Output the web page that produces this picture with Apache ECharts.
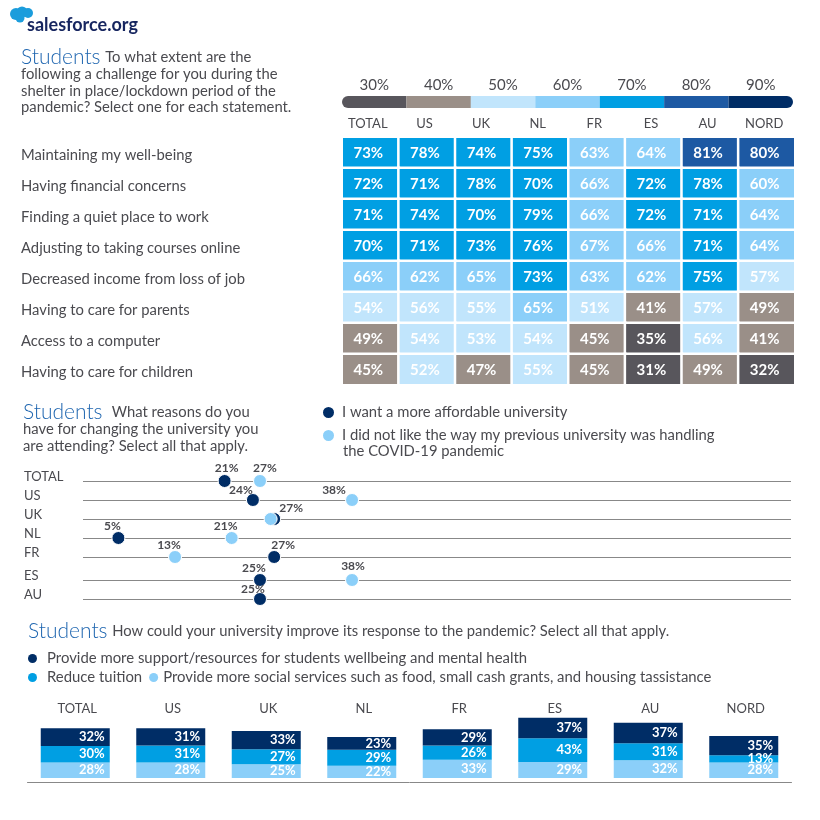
<!DOCTYPE html>
<html>
<head>
    <meta charset="utf-8" />
    <title>Students</title>
    <script src="https://cdn.jsdelivr.net/npm/echarts@6/dist/echarts.min.js"></script>
    <style>
        html, body { margin: 0; background: #fff; }
        #main { width: 820px; height: 820px; }
    </style>
</head>
<body>
    <div id="main"></div>
    <script>
        // heatmap data
        var regions = ['TOTAL', 'US', 'UK', 'NL', 'FR', 'ES', 'AU', 'NORD'];
        var challenges = ['Maintaining my well-being', 'Having financial concerns', 'Finding a quiet place to work',
            'Adjusting to taking courses online', 'Decreased income from loss of job', 'Having to care for parents',
            'Access to a computer', 'Having to care for children'];
        var wellBeing = [73, 78, 74, 75, 63, 64, 81, 80];
        var financial = [72, 71, 78, 70, 66, 72, 78, 60];
        var quietPlace = [71, 74, 70, 79, 66, 72, 71, 64];
        var coursesOnline = [70, 71, 73, 76, 67, 66, 71, 64];
        var lostIncome = [66, 62, 65, 73, 63, 62, 75, 57];
        var careParents = [54, 56, 55, 65, 51, 41, 57, 49];
        var computerAccess = [49, 54, 53, 54, 45, 35, 56, 41];
        var careChildren = [45, 52, 47, 55, 45, 31, 49, 32];
        var scaleLabels = ['30%', '40%', '50%', '60%', '70%', '80%', '90%'];
        var scaleFrom = [30, 40, 50, 60, 70, 80, 90];

        // dot plot data: the dots do not always sit on their printed value, so both are kept
        var dotRegions = ['TOTAL', 'US', 'UK', 'NL', 'FR', 'ES', 'AU'];
        var affordablePlotted = [20, 24, 27, 5, 27, 25, 25];
        var affordablePrinted = [21, 24, 27, 5, 27, 25, 25];
        var handlingPlotted = [25, 38, 26.5, 21, 13, 38, null];
        var handlingPrinted = [27, 38, null, 21, 13, 38, null];

        // stacked bar data
        var moreSupport = [32, 31, 33, 23, 29, 37, 37, 35];
        var reduceTuition = [30, 31, 27, 29, 26, 43, 31, 13];
        var socialServices = [28, 28, 25, 22, 33, 29, 32, 28];

        var nameAffordable = 'I want a more affordable university';
        var nameHandling = 'I did not like the way my previous university was handling';
        var nameSupport = 'Provide more support/resources for students wellbeing and mental health';
        var nameTuition = 'Reduce tuition';
        var nameServices = 'Provide more social services such as food, small cash grants, and housing tassistance';

        var FONT = 'Lato';
        var GREY = '#4a4a4f';
        var scaleColors = ['#58565c', '#9a8f88', '#c1e5fc', '#8bcff9', '#009fe3', '#1d59a3', '#002d66'];
        var NAVY = scaleColors[6], BLUE = scaleColors[4], SKY = scaleColors[3];

        // label nudges for the dots, in px
        var affordableNudge = [[2, 0], [-12, 3], [17, 2], [-6, 1], [9, 1], [-6, 1], [-7, 3]];
        var handlingNudge = [[5, 0], [-18, 3], [0, 0], [-6, 1], [-6, 1], [1, -1], [0, 0]];

        function sectionTitle( left, top, lines )
        {
            return {
                left: left, top: top, padding: 0,
                text: lines.join( '\n' ),
                textStyle: {
                    fontWeight: 'normal',
                    rich: {
                        h: { fontFamily: FONT, fontSize: 21, color: '#1f66b0', lineHeight: 18, fontWeight: 300 },
                        b: { fontFamily: FONT, fontSize: 14.8, color: GREY, lineHeight: 16.5, fontWeight: 'normal' }
                    }
                }
            };
        }

        var heatData = [];
        [wellBeing, financial, quietPlace, coursesOnline, lostIncome, careParents, computerAccess, careChildren].forEach( function ( row, r )
        {
            row.forEach( function ( v, c )
            {
                heatData.push( [c, r, v] );
            } );
        } );

        // one dot series for a slice of the rows
        function dotSeries( name, plotted, printed, nudge, color, from, to, gridIdx )
        {
            var data = [];
            for ( var i = from; i < to; i++ )
            {
                if ( plotted[i] === null ) continue;
                data.push( {
                    value: [plotted[i], dotRegions[i]],
                    label: { show: printed[i] !== null, formatter: printed[i] + '%', offset: nudge[i] }
                } );
            }
            return {
                type: 'scatter', name: name, xAxisIndex: gridIdx, yAxisIndex: gridIdx, clip: false,
                symbolSize: 13, data: data,
                itemStyle: { color: color, borderColor: '#fff', borderWidth: 1, opacity: 1 },
                label: { position: 'top', distance: 0, fontFamily: FONT, fontSize: 12, fontWeight: 'bold', color: GREY }
            };
        }

        function stackSeries( name, values, color )
        {
            return {
                type: 'bar', name: name, stack: 'reasons', xAxisIndex: 4, yAxisIndex: 4, barWidth: 69, data: values,
                itemStyle: { color: color },
                label: {
                    show: true, position: 'insideRight', distance: 5, formatter: '{c}%',
                    fontFamily: FONT, fontSize: 13, fontWeight: 'bold', color: '#fff'
                }
            };
        }

        function legendBox( left, top, names, gap )
        {
            return {
                left: left, top: top, padding: 0, orient: 'horizontal', itemWidth: 9, itemHeight: 9, itemGap: gap,
                icon: 'circle', selectedMode: false, data: names,
                textStyle: { fontFamily: FONT, fontSize: 14.9, color: GREY, padding: [0, 0, 0, 5] }
            };
        }

        var dotAxisLabel = { margin: 59, align: 'left', verticalAlign: 'bottom', lineHeight: 8, fontFamily: FONT, fontSize: 13, color: GREY };

        var myChart = echarts.init( document.getElementById( 'main' ), null, { renderer: 'canvas' } );
        myChart.setOption( {
            animation: false,
            backgroundColor: '#fff',
            textStyle: { fontFamily: FONT },
            title: [
                sectionTitle( 21, 48, ['{h|Students} {b|To what extent are the}', '{b|following a challenge for you during the}',
                    '{b|shelter in place/lockdown period of the}', '{b|pandemic? Select one for each statement.}'] ),
                sectionTitle( 23, 403, ['{h|Students}  {b|What reasons do you}', '{b|have for changing the university you}',
                    '{b|are attending? Select all that apply.}'] ),
                sectionTitle( 28, 622, ['{h|Students} {b|How could your university improve its response to the pandemic? Select all that apply.}'] )
            ],
            legend: [
                {
                    left: 321, top: 405, padding: 0, orient: 'vertical', itemWidth: 13, itemHeight: 13, itemGap: 8,
                    icon: 'circle', selectedMode: false, data: [nameAffordable, nameHandling],
                    textStyle: { fontFamily: FONT, fontSize: 14.8, color: GREY, padding: [0, 0, 0, 2] }
                },
                legendBox( 28, 651, [nameSupport], 8 ),
                legendBox( 28, 670, [nameTuition, { name: nameServices, textStyle: { padding: [0, 0, 0, 0] } }], 7 )
            ],
            graphic: [
                // logo
                { type: 'circle', shape: { cx: 16, cy: 14, r: 6 }, style: { fill: '#1b9ddc' } },
                { type: 'circle', shape: { cx: 22, cy: 12, r: 5.5 }, style: { fill: '#1b9ddc' } },
                { type: 'circle', shape: { cx: 28, cy: 13, r: 5 }, style: { fill: '#1b9ddc' } },
                { type: 'circle', shape: { cx: 20, cy: 18, r: 4.5 }, style: { fill: '#1b9ddc' } },
                {
                    type: 'text', left: 27, top: 16,
                    style: { text: 'salesforce.org', fontFamily: FONT, fontSize: 18, fontWeight: 'bold', fill: '#16255f' }
                },
                // second line of the wrapped legend entry
                {
                    type: 'text', left: 343, top: 444,
                    style: { text: 'the COVID-19 pandemic', fontFamily: FONT, fontSize: 14.8, fill: GREY }
                }
            ],
            grid: [
                { left: 342, top: 96, width: 451, height: 12 },
                { left: 342, top: 137, width: 453, height: 248 },
                { left: 83, top: 481, width: 708, height: 76 },
                { left: 83, top: 580, width: 708, height: 19 },
                { left: 27.5, top: 715, width: 764, height: 63 }
            ],
            xAxis: [
                {
                    type: 'category', gridIndex: 0, position: 'top', data: scaleLabels, axisLine: { show: false }, axisTick: { show: false },
                    axisLabel: { margin: 3, fontFamily: FONT, fontSize: 15, color: GREY }
                },
                {
                    type: 'category', gridIndex: 1, position: 'top', data: regions, axisLine: { show: false }, axisTick: { show: false },
                    axisLabel: { margin: 7, padding: [0, 5, 0, 0], fontFamily: FONT, fontSize: 13, color: GREY }
                },
                { type: 'value', gridIndex: 2, min: 0, max: 100, show: false },
                { type: 'value', gridIndex: 3, min: 0, max: 100, show: false },
                {
                    type: 'category', gridIndex: 4, position: 'top', data: regions, axisLine: { show: false }, axisTick: { show: false },
                    axisLabel: { margin: 0, padding: [0, 0, 0, 4], fontFamily: FONT, fontSize: 13, color: GREY }
                },
                {
                    // rule under the bars
                    type: 'category', gridIndex: 4, position: 'bottom', offset: 4, data: regions,
                    axisLine: { show: true, onZero: false, lineStyle: { color: '#888', width: 1 } },
                    axisTick: { show: false }, axisLabel: { show: false }
                }
            ],
            yAxis: [
                { type: 'value', gridIndex: 0, min: 0, max: 1, show: false },
                {
                    type: 'category', gridIndex: 1, inverse: true, data: challenges, axisLine: { show: false }, axisTick: { show: false },
                    axisLabel: { margin: 321, align: 'left', verticalAlign: 'top', lineHeight: 5, fontFamily: FONT, fontSize: 14.8, color: GREY }
                },
                {
                    type: 'category', gridIndex: 2, inverse: true, boundaryGap: false, data: dotRegions.slice( 0, 5 ),
                    axisLine: { show: false }, axisTick: { show: false },
                    splitLine: { show: true, lineStyle: { color: '#888', width: 1 } },
                    axisLabel: dotAxisLabel
                },
                {
                    type: 'category', gridIndex: 3, inverse: true, boundaryGap: false, data: dotRegions.slice( 5 ),
                    axisLine: { show: false }, axisTick: { show: false },
                    splitLine: { show: true, lineStyle: { color: '#888', width: 1 } },
                    axisLabel: dotAxisLabel
                },
                { type: 'value', gridIndex: 4, min: 0, max: 114, show: false }
            ],
            visualMap: {
                type: 'piecewise', show: false, seriesIndex: 1, dimension: 2,
                pieces: scaleFrom.map( function ( from, i )
                {
                    return { gte: from, lt: from + 10, color: scaleColors[i] };
                } )
            },
            series: [
                {
                    type: 'bar', xAxisIndex: 0, yAxisIndex: 0, barWidth: '100%', silent: true,
                    data: scaleLabels.map( function ( s, i )
                    {
                        var radius = i === 0 ? [6, 0, 0, 6] : i === scaleLabels.length - 1 ? [0, 6, 6, 0] : 0;
                        return { value: 1, itemStyle: { color: scaleColors[i], borderRadius: radius } };
                    } )
                },
                {
                    type: 'heatmap', xAxisIndex: 1, yAxisIndex: 1, data: heatData,
                    itemStyle: { borderColor: '#fff', borderWidth: 2.5 },
                    label: {
                        show: true, offset: [-2, 1], formatter: function ( p ) { return p.value[2] + '%'; },
                        fontFamily: FONT, fontSize: 15, fontWeight: 'bold', color: '#fff'
                    }
                },
                dotSeries( nameAffordable, affordablePlotted, affordablePrinted, affordableNudge, NAVY, 0, 5, 2 ),
                dotSeries( nameHandling, handlingPlotted, handlingPrinted, handlingNudge, SKY, 0, 5, 2 ),
                dotSeries( nameAffordable, affordablePlotted, affordablePrinted, affordableNudge, NAVY, 5, 7, 3 ),
                dotSeries( nameHandling, handlingPlotted, handlingPrinted, handlingNudge, SKY, 5, 7, 3 ),
                stackSeries( nameServices, socialServices, SKY ),
                stackSeries( nameTuition, reduceTuition, BLUE ),
                stackSeries( nameSupport, moreSupport, NAVY )
            ]
        } );
    </script>
</body>
</html>
